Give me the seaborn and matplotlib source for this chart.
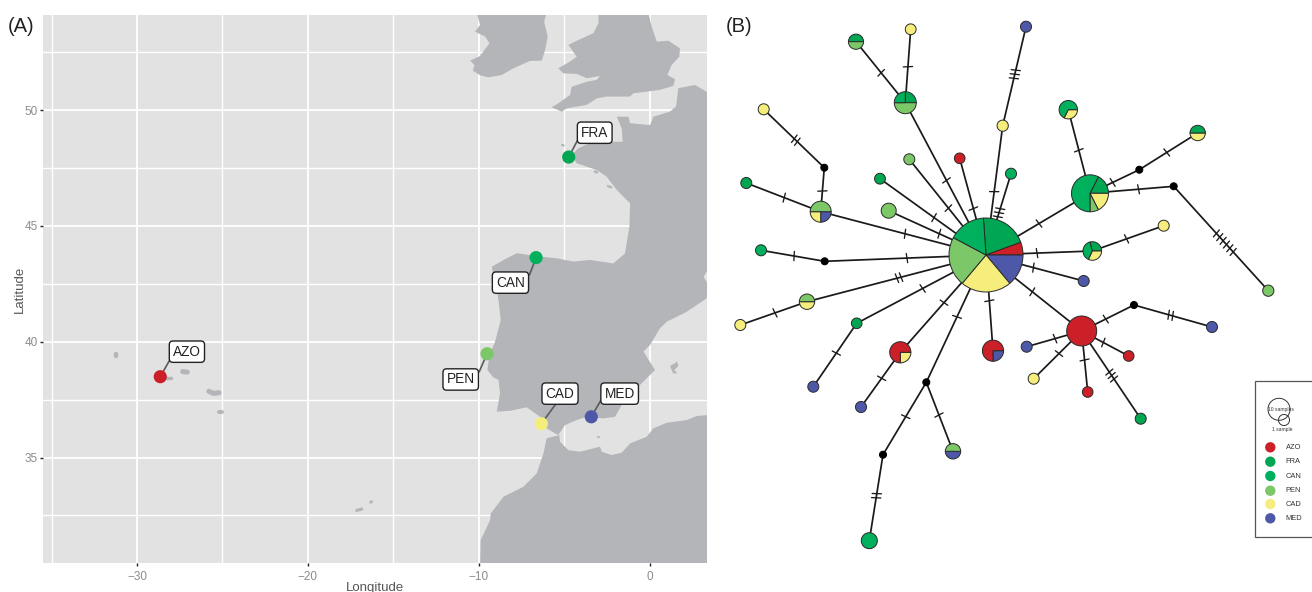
import matplotlib
matplotlib.use("Agg")
import matplotlib.pyplot as plt
import numpy as np
import pandas as pd
import seaborn as sns

# ---------- map data (lon / lat) ----------
site_names = ["AZO", "FRA", "CAN", "PEN", "CAD", "MED"]
site_lon = [-28.64, -4.74, -6.65, -9.52, -6.34, -3.42]
site_lat = [38.49, 47.97, 43.63, 39.48, 36.46, 36.76]
label_lon = [-27.08, -3.22, -8.15, -11.06, -5.25, -1.76]
label_lat = [39.57, 49.02, 42.55, 38.37, 37.76, 37.76]
segment_lon = [-28.06, -4.21, -7.04, -9.98, -5.44, -2.85]
segment_lat = [39.24, 48.71, 42.88, 38.7, 37.37, 37.48]
site_colors = ["#CB2027", "#00A651", "#00B05C", "#7CC767", "#F6EE7C", "#4E58A9"]

ireland = [(-10.12, 54.2), (-6.03, 54.2), (-6.18, 53.81), (-5.97, 53.17), (-6.12, 52.59), (-6.32, 52.13),
           (-7.0, 52.12), (-7.98, 51.8), (-8.66, 51.51), (-9.44, 51.41), (-9.93, 51.5), (-10.35, 51.7),
           (-10.26, 51.94), (-10.51, 52.13), (-9.93, 52.33), (-9.38, 52.88), (-9.63, 53.17), (-10.22, 53.38),
           (-9.93, 53.67)]
britain = [(-3.0, 54.2), (-0.08, 54.2), (0.11, 53.6), (0.41, 52.95), (1.09, 52.99), (1.77, 52.66), (1.73, 52.3),
           (1.28, 51.94), (1.03, 51.51), (1.48, 51.33), (1.38, 51.04), (0.6, 50.87), (-0.96, 50.72), (-1.15, 50.58),
           (-1.93, 50.58), (-2.52, 50.58), (-3.1, 50.5), (-3.69, 50.22), (-4.86, 50.07), (-5.15, 49.93), (-5.74, 50.12),
           (-5.35, 50.29), (-4.66, 50.65), (-4.57, 51.0), (-3.69, 51.22), (-3.1, 51.3), (-2.91, 51.47), (-3.69, 51.37),
           (-4.27, 51.56), (-5.05, 51.58), (-5.35, 51.8), (-4.66, 52.09), (-4.27, 52.3), (-4.76, 52.81), (-4.27, 52.99),
           (-3.3, 53.31), (-3.0, 53.74)]
europe = [(4.0, 50.79), (3.33, 50.79), (2.65, 51.08), (1.67, 50.94), (1.54, 50.15), (1.18, 49.93), (0.21, 49.71),
          (0.02, 49.35), (-1.15, 49.43), (-1.25, 49.71), (-1.93, 49.71), (-1.64, 49.21), (-1.58, 48.63), (-2.32, 48.63),
          (-3.1, 48.71), (-4.18, 48.35), (-4.57, 48.06), (-4.27, 47.7), (-3.1, 47.41), (-2.52, 47.12), (-1.93, 46.55),
          (-1.15, 45.97), (-1.19, 44.97), (-1.45, 43.81), (-2.13, 43.38), (-3.49, 43.53), (-4.47, 43.46), (-5.44, 43.6),
          (-6.42, 43.67), (-7.78, 43.82), (-8.37, 43.6), (-9.24, 43.24), (-9.15, 42.88), (-8.95, 42.23), (-8.85, 41.8),
          (-8.72, 40.93), (-9.05, 40.0), (-9.38, 39.42), (-9.5, 38.78), (-9.15, 38.46), (-8.85, 38.35), (-8.76, 37.77),
          (-8.95, 36.98), (-8.17, 37.02), (-7.2, 37.17), (-6.42, 36.76), (-6.03, 36.26), (-5.35, 35.97), (-4.96, 36.4),
          (-4.27, 36.62), (-3.69, 36.76), (-2.71, 36.69), (-2.03, 36.76), (-1.58, 37.34), (-0.67, 38.06), (0.31, 38.78),
          (-0.37, 39.57), (0.02, 39.86), (0.6, 40.58), (0.99, 40.86), (2.16, 41.29), (3.33, 41.87), (3.4, 42.5),
          (3.15, 42.8), (3.4, 43.1), (4.0, 43.1)]
africa = [(-6.03, 35.83), (-5.29, 35.97), (-5.25, 35.68), (-4.76, 35.32), (-4.08, 35.25), (-2.91, 35.47), (-2.81, 35.25),
          (-2.23, 35.11), (-1.64, 35.21), (-1.15, 35.61), (-0.18, 35.9), (0.21, 36.26), (0.99, 36.5), (2.16, 36.62),
          (2.74, 36.79), (3.33, 36.83), (4.0, 36.83), (4.0, 30.0), (-9.93, 30.0), (-9.89, 31.44), (-9.34, 32.3),
          (-9.3, 32.59), (-8.56, 33.31), (-7.39, 33.74), (-6.61, 34.32), (-6.22, 35.18)]
mallorca = [(1.19, 38.95), (1.61, 39.14), (1.67, 38.95), (1.44, 38.78), (1.61, 38.63), (1.38, 38.63), (1.28, 38.78)]
land_shapes = [ireland, britain, europe, africa, mallorca]

# small islands: (outline as a stroke, stroke width)
islets = [([(-31.24, 39.37), (-31.24, 39.49)], 3.2),
          ([(-28.3, 38.42), (-28.02, 38.42)], 2.4),
          ([(-27.33, 38.71), (-27.06, 38.69)], 3.6),
          ([(-25.8, 37.86), (-25.52, 37.77), (-25.2, 37.8)], 3.6),
          ([(-25.2, 36.97), (-25.05, 36.97)], 2.8),
          ([(-17.15, 32.72), (-16.85, 32.78)], 2.2),
          ([(-16.33, 33.07), (-16.27, 33.1)], 2.0),
          ([(-6.32, 49.9), (-6.3, 49.9)], 1.6),
          ([(-2.55, 49.45), (-2.45, 49.45)], 1.8),
          ([(-3.2, 47.34), (-3.1, 47.31)], 2.0),
          ([(-2.45, 46.72), (-2.25, 46.66)], 1.6),
          ([(-5.12, 48.49), (-5.05, 48.47)], 1.8),
          ([(-3.0, 35.9), (-2.98, 35.9)], 1.4)]

x_ticks = [-30, -20, -10, 0]
y_ticks = [35, 40, 45, 50]
x_minor = [-35, -25, -15, -5]
y_minor = [32.5, 37.5, 42.5, 47.5, 52.5]

# ---------- haplotype network data ----------
node_x = [986, 856, 910.7, 905.3, 763.7, 824.3, 820.7, 746.3, 880, 909.3, 959.7, 1002.7, 1011, 888.7, 761, 824.7,
          807, 740.3, 856.7, 813.3, 900.3, 861, 926.3, 883, 953, 869.3, 993, 1026, 1068.3, 1090, 1197.7, 1139.3,
          1173.7, 1268.3, 1163.7, 1092.3, 1083.7, 1081.7, 1026.7, 1033.7, 1087.7, 1128.7, 1140.7, 1134, 1212]
node_y = [255, 41.7, 29.3, 102.7, 109.3, 167.7, 211.7, 183, 178.7, 159.3, 158.3, 125.7, 173.7, 210.7, 250.3, 261.3,
          301.7, 325, 323.3, 386.7, 352.3, 407, 382.3, 454.7, 451.3, 540.7, 350.7, 26.7, 109.7, 193.3, 133, 169.7,
          186.3, 290.7, 225.7, 251, 281, 331, 346.7, 378.7, 392, 356, 418.7, 305, 327]
node_r = [37, 7.6, 5.4, 11, 5.5, 3.5, 10.5, 5.5, 5.4, 5.5, 5.3, 5.6, 5.5, 7.5, 5.5, 3.5,
          7.7, 5.5, 5.3, 5.5, 10.6, 5.5, 3.5, 3.5, 7.7, 8, 10.6, 5.5, 9.2, 18.5, 7.7, 3.5,
          3.5, 5.6, 5.5, 9.3, 5.5, 15, 5.5, 5.5, 5.3, 5.3, 5.5, 3.5, 5.5]
node_parts = [
    {"FRA": 74, "AZO": 20, "MED": 50, "CAD": 80, "PEN": 78, "CAN": 58},
    {"FRA": 1, "PEN": 1}, {"CAD": 1}, {"FRA": 1, "PEN": 2, "CAN": 1}, {"CAD": 1}, {"NA": 1},
    {"MED": 1, "CAD": 1, "PEN": 2}, {"FRA": 1}, {"FRA": 1}, {"PEN": 1}, {"AZO": 1}, {"CAD": 1}, {"CAN": 1},
    {"PEN": 1}, {"CAN": 1}, {"NA": 1}, {"CAD": 1, "PEN": 1}, {"CAD": 1}, {"FRA": 1}, {"MED": 1},
    {"CAD": 1, "AZO": 3}, {"MED": 1}, {"NA": 1}, {"NA": 1}, {"MED": 1, "PEN": 1}, {"CAN": 1},
    {"MED": 1, "AZO": 3}, {"MED": 1}, {"CAD": 117, "CAN": 243},
    {"FRA": 63, "CAD": 63, "PEN": 27, "CAN": 207}, {"CAD": 1, "FRA": 1}, {"NA": 1}, {"NA": 1}, {"PEN": 1},
    {"CAD": 1}, {"FRA": 105, "CAD": 115, "CAN": 140}, {"MED": 1}, {"AZO": 1}, {"MED": 1}, {"CAD": 1},
    {"AZO": 1}, {"AZO": 1}, {"FRA": 1}, {"NA": 1}, {"MED": 1}]
node_start = [94, 180, 0, 90, 0, 0, 0, 0, 0, 0, 0, 0, 0, 0, 0, 0,
              0, 0, 0, 0, 0, 0, 0, 0, 0, 0, 0, 0, 0, 63, 0, 0,
              0, 0, 0, 105, 0, 0, 0, 0, 0, 0, 0, 0, 0]

edge_from = [0, 3, 3, 0, 0, 11, 0, 0, 0, 0, 0, 6, 6, 5, 0, 15, 0, 16, 0, 18, 0, 20, 0, 22, 22, 23, 0,
             0, 29, 29, 31, 29, 32, 0, 35, 0, 0, 37, 37, 37, 37, 37, 37, 43]
edge_to = [3, 1, 2, 10, 11, 27, 12, 9, 8, 13, 6, 7, 5, 4, 15, 14, 16, 17, 18, 19, 20, 21, 22, 23, 24, 25, 26,
           29, 28, 31, 30, 32, 33, 35, 34, 36, 37, 38, 39, 40, 41, 42, 43, 44]
edge_ticks = [1, 1, 1, 1, 1, 3, 3, 1, 1, 1, 1, 1, 1, 2, 1, 1, 2, 1, 1, 1, 1, 1, 1, 1, 1, 2, 1,
              1, 1, 1, 1, 1, 6, 1, 1, 1, 1, 1, 1, 1, 1, 3, 1, 2]
edge_frac = [0.49, 0.49, 0.49, 0.48, 0.49, 0.52, 0.52, 0.49, 0.49, 0.48, 0.49, 0.49, 0.47, 0.47, 0.49, 0.48,
             0.486, 0.48, 0.49, 0.47, 0.49, 0.475, 0.486, 0.475, 0.474, 0.477, 0.478,
             0.51, 0.515, 0.46, 0.47, 0.58, 0.54, 0.48, 0.48, 0.485, 0.484, 0.485, 0.473, 0.475, 0.46, 0.508, 0.46, 0.47]

legend_y = [447.3, 461.7, 476, 490.7, 504, 518.3]

# ---------- figure ----------
sns.set_theme(style="darkgrid")
plt.rcParams["font.family"] = ["Liberation Sans", "DejaVu Sans"]
W, H = 1312, 592
fig = plt.figure(figsize=(W / 100, H / 100), dpi=100, facecolor="white")

# ---------- panel A ----------
ax = fig.add_axes([43 / W, 1 - 563 / H, (707 - 43) / W, (563 - 15) / H])
ax.set_facecolor("#E2E2E2")
ax.set_xlim(-35.5, 3.35)
ax.set_ylim(30.45, 54.1)
for s in ax.spines.values():
    s.set_visible(False)
ax.set_xticks(x_ticks)
ax.set_xticklabels(["\u221230", "\u221220", "\u221210", "0"])
ax.set_yticks(y_ticks)
ax.set_xticks(x_minor, minor=True)
ax.set_yticks(y_minor, minor=True)
ax.grid(True, which="major", color="white", lw=1.3, zorder=0)
ax.grid(True, which="minor", color="white", lw=1.0, zorder=0)
ax.set_axisbelow(True)
ax.tick_params(axis="both", which="major", length=2.5, width=1.0, color="#222222",
               labelcolor="#8C8C8C", labelsize=8.5, pad=1.5, bottom=True, left=True)
ax.tick_params(axis="x", which="major", pad=3)
ax.tick_params(axis="both", which="minor", length=0)

land = "#B3B5B8"
for shape in land_shapes:
    xs, ys = zip(*shape)
    ax.fill(xs, ys, color=land, lw=0, zorder=1)
for stroke, width in islets:
    xs, ys = zip(*stroke)
    ax.plot(xs, ys, color=land, lw=width, solid_capstyle="round", zorder=1)

for sx, sy, lx, ly in zip(site_lon, site_lat, segment_lon, segment_lat):
    ax.plot([sx, lx], [sy, ly], color="#5A5A5A", lw=1.2, zorder=2)

sites = pd.DataFrame({"lon": site_lon, "lat": site_lat, "site": site_names})
sns.scatterplot(data=sites, x="lon", y="lat", hue="site", palette=dict(zip(site_names, site_colors)),
                s=90, linewidth=0, legend=False, ax=ax, zorder=3)
ax.set_xlabel("Longitude", fontsize=9.5, color="#555555", labelpad=-0.3)
ax.set_ylabel("Latitude", fontsize=9.5, color="#555555", labelpad=-1.5)
for name, lx, ly in zip(site_names, label_lon, label_lat):
    ax.text(lx, ly, name, ha="center", va="center", fontsize=9.8, color="#222222", zorder=4,
            bbox=dict(boxstyle="round,pad=0.27", fc="white", ec="#222222", lw=1.0))

fig.text(8 / W, 1 - 26 / H, "(A)", fontsize=14.5, color="#222222", ha="left", va="center")
fig.text(726 / W, 1 - 26 / H, "(B)", fontsize=14.5, color="#222222", ha="left", va="center")

# ---------- panel B ----------
net = fig.add_axes([715 / W, 0, (W - 715) / W, 1])
net.patch.set_alpha(0)

palette = dict(zip(site_names, site_colors))
palette["NA"] = "black"

for a, b, n, f in zip(edge_from, edge_to, edge_ticks, edge_frac):
    x0, y0, x1, y1 = node_x[a], node_y[a], node_x[b], node_y[b]
    net.plot([x0, x1], [y0, y1], color="#1A1A1A", lw=1.25, zorder=1, solid_capstyle="butt")
    ln = np.hypot(x1 - x0, y1 - y0)
    ux, uy = (x1 - x0) / ln, (y1 - y0) / ln
    px, py = -uy, ux
    cx, cy = x0 + f * (x1 - x0), y0 + f * (y1 - y0)
    gap = 5.0 if n == 6 else 4.2
    for k in range(n):
        off = (k - (n - 1) / 2) * gap
        tx, ty = cx + off * ux, cy + off * uy
        # ticks lean slightly, as in the drawn network
        lx, ly = px + 0.12 * ux, py + 0.12 * uy
        net.plot([tx - 4.6 * lx, tx + 4.6 * lx], [ty - 4.6 * ly, ty + 4.6 * ly], color="#1A1A1A", lw=0.95, zorder=1)

for x, y, r, parts, start in zip(node_x, node_y, node_r, node_parts, node_start):
    keys = list(parts)
    edge = "#2A2A2A" if keys != ["NA"] else "black"
    net.pie([parts[k] for k in keys], colors=[palette[k] for k in keys], center=(x, y), radius=r,
            startangle=-start, counterclock=True,
            wedgeprops=dict(edgecolor=edge, linewidth=0.7, zorder=3))

net.set_aspect("equal", adjustable="box")
net.set_xlim(715, W)
net.set_ylim(H, 0)
net.axis("off")

# legend box of the network
net.fill([1254.5, 1313, 1313, 1254.5], [381, 381, 536.7, 536.7], fc="white", ec="#555555", lw=0.9, zorder=4, clip_on=False)
theta = np.linspace(0, 2 * np.pi, 120)
net.plot(1279 + 11 * np.cos(theta), 409.3 + 11 * np.sin(theta), color="#333333", lw=0.7, zorder=5)
net.plot(1284 + 5.5 * np.cos(theta), 420 + 5.5 * np.sin(theta), color="#333333", lw=0.7, zorder=5)
net.text(1280.5, 409, "10 samples", fontsize=3.6, color="#333333", ha="center", va="center", zorder=5)
net.text(1282, 429.5, "1 sample", fontsize=3.6, color="#333333", ha="center", va="center", zorder=5)
net.scatter([1270.3] * 6, legend_y, s=56, c=site_colors, linewidths=0, zorder=5)
for name, y in zip(site_names, legend_y):
    net.text(1285.5, y, name, fontsize=5.4, color="#333333", ha="left", va="center", zorder=5)

fig.savefig("out.png", dpi=100, facecolor="white")
